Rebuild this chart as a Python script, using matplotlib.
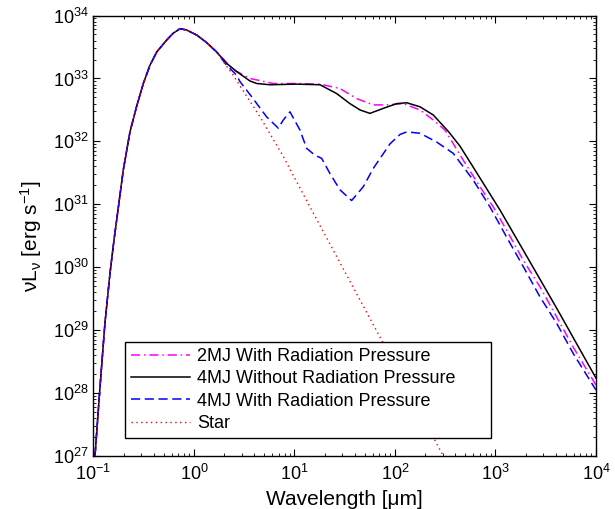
import numpy as np
import matplotlib
matplotlib.use("Agg")
import matplotlib.pyplot as plt

plt.rcParams['font.family'] = ['Liberation Sans', 'DejaVu Sans']
plt.rcParams['mathtext.fontset'] = 'custom'
plt.rcParams['mathtext.rm'] = 'Liberation Sans'
plt.rcParams['mathtext.it'] = 'Liberation Sans:italic'
plt.rcParams['mathtext.bf'] = 'Liberation Sans:bold'

# 読み取った値 (log10 波長[um], log10 nuLnu[erg/s])
# 全曲線で共通の立ち上がり部分
log_wl_common = [-0.985, -0.935, -0.886, -0.836, -0.796, -0.703, -0.637, -0.570,
                 -0.504, -0.438, -0.371, -0.272, -0.206, -0.139, -0.073, 0.027,
                 0.126, 0.226]
log_lum_common = [27.00, 28.10, 29.11, 29.90, 30.43, 31.55, 32.15, 32.56,
                  32.92, 33.21, 33.42, 33.61, 33.72, 33.79, 33.77, 33.69,
                  33.57, 33.42]

# 2MJ With Radiation Pressure
log_wl_2mj = [0.325, 0.391, 0.557, 0.789, 1.022, 1.254, 1.453, 1.619, 1.784, 1.917,
              2.083, 2.249, 2.381, 2.498, 2.680, 2.846, 2.978, 3.111, 3.277, 3.443,
              3.609, 3.774, 4.0]
log_lum_2mj = [33.25, 33.14, 33.00, 32.92, 32.92, 32.91, 32.84, 32.68, 32.58, 32.58,
               32.60, 32.50, 32.34, 32.18, 31.70, 31.28, 30.96, 30.59, 30.11, 29.69,
               29.21, 28.73, 28.13]

# 4MJ Without Radiation Pressure
log_wl_4mj_norad = [0.325, 0.425, 0.557, 0.624, 0.756, 1.022, 1.254, 1.420, 1.552, 1.652,
                    1.751, 1.884, 2.017, 2.116, 2.249, 2.381, 2.536, 2.647, 2.779, 3.045,
                    3.277, 3.609, 4.0]
log_lum_4mj_norad = [33.24, 33.11, 32.96, 32.92, 32.90, 32.91, 32.90, 32.76, 32.60, 32.50,
                     32.445, 32.525, 32.60, 32.614, 32.55, 32.42, 32.15, 31.925, 31.59, 30.91,
                     30.27, 29.35, 28.24]

# 4MJ With Radiation Pressure
log_wl_4mj_rad = [0.325, 0.358, 0.425, 0.458, 0.574, 0.723, 0.839, 0.889, 0.955, 1.055,
                  1.121, 1.204, 1.271, 1.353, 1.453, 1.569, 1.685, 1.784, 1.950, 2.050,
                  2.116, 2.249, 2.415, 2.580, 2.779, 2.945, 3.111, 3.277, 3.443, 3.609,
                  3.774, 4.0]
log_lum_4mj_rad = [33.21, 33.16, 33.05, 32.95, 32.71, 32.39, 32.21, 32.34, 32.47, 32.18,
                   31.89, 31.78, 31.73, 31.49, 31.23, 31.06, 31.28, 31.57, 31.96, 32.11,
                   32.15, 32.13, 31.99, 31.81, 31.385, 30.96, 30.48, 30.01, 29.53, 29.11,
                   28.63, 28.05]

# Star
log_wl_star = [0.291, 0.391, 0.491, 0.657, 0.889, 1.154, 1.841, 2.478, 2.6]
log_lum_star = [33.27, 33.05, 32.80, 32.39, 31.76, 30.96, 28.92, 27.01, 26.65]

labels = ['2MJ With Radiation Pressure', '4MJ Without Radiation Pressure',
          '4MJ With Radiation Pressure', 'Star']


def series(lw, ll):
    x = 10.0 ** np.array(log_wl_common + lw)
    y = 10.0 ** np.array(log_lum_common + ll)
    return x, y


fig = plt.figure(figsize=(6.15, 5.09), dpi=100)
ax = fig.add_axes([0.152, 0.104, 0.817, 0.8655])

# MATLAB と同じ描画順 (凡例順)
x, y = series(log_wl_2mj, log_lum_2mj)
ax.plot(x, y, color=(1, 0, 1), ls=(0, (6, 2.5, 1, 2.5)), lw=1.1, label=labels[0])
x, y = series(log_wl_4mj_norad, log_lum_4mj_norad)
ax.plot(x, y, color='k', ls='-', lw=1.1, label=labels[1])
x, y = series(log_wl_4mj_rad, log_lum_4mj_rad)
ax.plot(x, y, color=(0, 0, 1), ls=(0, (6, 3)), lw=1.1, label=labels[2])
x, y = series(log_wl_star, log_lum_star)
ax.plot(x, y, color=(1, 0, 0), ls=(0, (1, 2.5)), lw=1.0, label=labels[3])

ax.set_xscale('log')
ax.set_yscale('log')
ax.set_xlim(0.1, 1e4)
ax.set_ylim(1e27, 1e34)
ax.set_xticks([10.0 ** k for k in range(-1, 5)])
ax.set_yticks([10.0 ** k for k in range(27, 35)])

ax.tick_params(which='both', direction='in', top=True, right=True, labelsize=13)
ax.tick_params(which='major', length=5, width=0.8)
ax.tick_params(which='minor', length=2.5, width=0.6)
ax.tick_params(axis='x', pad=6)
for s in ax.spines.values():
    s.set_linewidth(1.0)

ax.set_xlabel('Wavelength [μm]', fontsize=15, labelpad=4)
ax.set_ylabel(r'νL$_\mathregular{ν}$ [erg s$^\mathregular{-1}$]', fontsize=15, labelpad=6)

leg = ax.legend(loc='lower left', bbox_to_anchor=(0.0627, 0.041, 0.728, 0.21),
                mode='expand', fontsize=13, fancybox=False, framealpha=1,
                edgecolor='k', handlelength=3.3, handletextpad=0.37,
                labelspacing=0.3, borderpad=0.32, borderaxespad=0)
leg.get_frame().set_linewidth(1.0)

fig.savefig('out.png', dpi=100)
